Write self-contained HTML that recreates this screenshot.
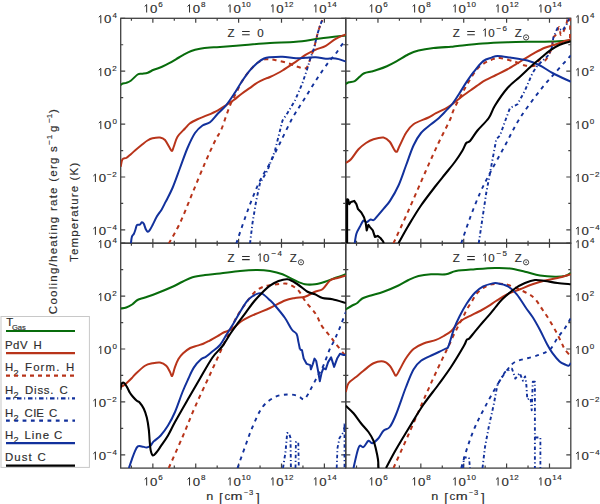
<!DOCTYPE html>
<html><head><meta charset="utf-8"><style>
html,body{margin:0;padding:0;background:#fff;width:600px;height:504px;overflow:hidden}
svg{display:block}
text{font-family:"Liberation Sans",sans-serif;fill:#2c2c2c;stroke:#2c2c2c;stroke-width:0.15px}
</style></head><body>
<svg width="600" height="504" viewBox="0 0 600 504">
<path d="M131.42 18.30v2.5M131.42 243.20v-2.5M152.86 18.30v4.5M152.86 243.20v-4.5M174.30 18.30v2.5M174.30 243.20v-2.5M195.74 18.30v4.5M195.74 243.20v-4.5M217.18 18.30v2.5M217.18 243.20v-2.5M238.62 18.30v4.5M238.62 243.20v-4.5M260.06 18.30v2.5M260.06 243.20v-2.5M281.50 18.30v4.5M281.50 243.20v-4.5M302.94 18.30v2.5M302.94 243.20v-2.5M324.38 18.30v4.5M324.38 243.20v-4.5M120.70 229.90h4.5M345.70 229.90h-4.5M120.70 203.45h2.5M345.70 203.45h-2.5M120.70 177.00h4.5M345.70 177.00h-4.5M120.70 150.55h2.5M345.70 150.55h-2.5M120.70 124.10h4.5M345.70 124.10h-4.5M120.70 97.65h2.5M345.70 97.65h-2.5M120.70 71.20h4.5M345.70 71.20h-4.5M120.70 44.75h2.5M345.70 44.75h-2.5M120.70 18.30h4.5M345.70 18.30h-4.5M356.52 18.30v2.5M356.52 243.20v-2.5M377.96 18.30v4.5M377.96 243.20v-4.5M399.40 18.30v2.5M399.40 243.20v-2.5M420.84 18.30v4.5M420.84 243.20v-4.5M442.28 18.30v2.5M442.28 243.20v-2.5M463.72 18.30v4.5M463.72 243.20v-4.5M485.16 18.30v2.5M485.16 243.20v-2.5M506.60 18.30v4.5M506.60 243.20v-4.5M528.04 18.30v2.5M528.04 243.20v-2.5M549.48 18.30v4.5M549.48 243.20v-4.5M345.80 229.90h4.5M570.80 229.90h-4.5M345.80 203.45h2.5M570.80 203.45h-2.5M345.80 177.00h4.5M570.80 177.00h-4.5M345.80 150.55h2.5M570.80 150.55h-2.5M345.80 124.10h4.5M570.80 124.10h-4.5M345.80 97.65h2.5M570.80 97.65h-2.5M345.80 71.20h4.5M570.80 71.20h-4.5M345.80 44.75h2.5M570.80 44.75h-2.5M345.80 18.30h4.5M570.80 18.30h-4.5M131.42 243.20v2.5M131.42 468.10v-2.5M152.86 243.20v4.5M152.86 468.10v-4.5M174.30 243.20v2.5M174.30 468.10v-2.5M195.74 243.20v4.5M195.74 468.10v-4.5M217.18 243.20v2.5M217.18 468.10v-2.5M238.62 243.20v4.5M238.62 468.10v-4.5M260.06 243.20v2.5M260.06 468.10v-2.5M281.50 243.20v4.5M281.50 468.10v-4.5M302.94 243.20v2.5M302.94 468.10v-2.5M324.38 243.20v4.5M324.38 468.10v-4.5M120.70 454.80h4.5M345.70 454.80h-4.5M120.70 428.35h2.5M345.70 428.35h-2.5M120.70 401.90h4.5M345.70 401.90h-4.5M120.70 375.45h2.5M345.70 375.45h-2.5M120.70 349.00h4.5M345.70 349.00h-4.5M120.70 322.55h2.5M345.70 322.55h-2.5M120.70 296.10h4.5M345.70 296.10h-4.5M120.70 269.65h2.5M345.70 269.65h-2.5M120.70 243.20h4.5M345.70 243.20h-4.5M356.52 243.20v2.5M356.52 468.10v-2.5M377.96 243.20v4.5M377.96 468.10v-4.5M399.40 243.20v2.5M399.40 468.10v-2.5M420.84 243.20v4.5M420.84 468.10v-4.5M442.28 243.20v2.5M442.28 468.10v-2.5M463.72 243.20v4.5M463.72 468.10v-4.5M485.16 243.20v2.5M485.16 468.10v-2.5M506.60 243.20v4.5M506.60 468.10v-4.5M528.04 243.20v2.5M528.04 468.10v-2.5M549.48 243.20v4.5M549.48 468.10v-4.5M345.80 454.80h4.5M570.80 454.80h-4.5M345.80 428.35h2.5M570.80 428.35h-2.5M345.80 401.90h4.5M570.80 401.90h-4.5M345.80 375.45h2.5M570.80 375.45h-2.5M345.80 349.00h4.5M570.80 349.00h-4.5M345.80 322.55h2.5M570.80 322.55h-2.5M345.80 296.10h4.5M570.80 296.10h-4.5M345.80 269.65h2.5M570.80 269.65h-2.5M345.80 243.20h4.5M570.80 243.20h-4.5" stroke="#404040" stroke-width="1.2" fill="none"/>
<rect x="120.70" y="18.30" width="225.0" height="224.9" fill="none" stroke="#404040" stroke-width="1.3"/>
<rect x="345.80" y="18.30" width="225.0" height="224.9" fill="none" stroke="#404040" stroke-width="1.3"/>
<rect x="120.70" y="243.20" width="225.0" height="224.9" fill="none" stroke="#404040" stroke-width="1.3"/>
<rect x="345.80" y="243.20" width="225.0" height="224.9" fill="none" stroke="#404040" stroke-width="1.3"/>
<defs><clipPath id="cTL"><rect x="120.70" y="18.30" width="225.0" height="224.9"/></clipPath><clipPath id="cTR"><rect x="345.80" y="18.30" width="225.0" height="224.9"/></clipPath><clipPath id="cBL"><rect x="120.70" y="243.20" width="225.0" height="224.9"/></clipPath><clipPath id="cBR"><rect x="345.80" y="243.20" width="225.0" height="224.9"/></clipPath></defs><g fill="none" stroke-linejoin="round" stroke-linecap="butt"><g clip-path="url(#cTL)"><path d="M120.70 85.00 C121.05 84.75 121.87 83.85 122.80 83.50 C123.73 83.15 124.92 83.40 126.30 82.90 C127.68 82.40 129.22 81.90 131.10 80.50 C132.98 79.10 135.82 75.63 137.60 74.50 C139.38 73.37 140.10 74.00 141.80 73.70 C143.50 73.40 145.82 73.35 147.80 72.70 C149.78 72.05 151.33 70.78 153.70 69.80 C156.07 68.82 159.42 67.90 162.00 66.80 C164.58 65.70 166.53 64.67 169.20 63.20 C171.87 61.73 175.78 59.32 178.00 58.00 C180.22 56.68 180.29 56.47 182.50 55.30 C184.71 54.13 188.33 52.09 191.25 51.00 C194.17 49.91 196.88 49.33 200.00 48.75 C203.12 48.17 206.67 47.79 210.00 47.50 C213.33 47.21 214.17 47.42 220.00 47.00 C225.83 46.58 236.67 45.67 245.00 45.00 C253.33 44.33 261.50 43.53 270.00 43.00 C278.50 42.47 287.67 42.55 296.00 41.80 C304.33 41.05 311.67 39.55 320.00 38.50 C328.33 37.45 341.67 36.00 346.00 35.50" stroke="#086c0c" stroke-width="2.05"/><path d="M120.70 166.75 C121.00 165.50 121.58 160.71 122.50 159.25 C123.42 157.79 125.00 158.71 126.25 158.00 C127.50 157.29 128.54 156.25 130.00 155.00 C131.46 153.75 132.92 152.29 135.00 150.50 C137.08 148.71 140.42 145.92 142.50 144.25 C144.58 142.58 145.83 141.49 147.50 140.50 C149.17 139.51 150.42 138.80 152.50 138.30 C154.58 137.80 157.92 137.22 160.00 137.50 C162.08 137.78 163.42 138.33 165.00 140.00 C166.58 141.67 168.33 145.67 169.50 147.50 C170.67 149.33 171.29 151.12 172.00 151.00 C172.71 150.88 172.83 149.12 173.75 146.75 C174.67 144.38 175.62 139.79 177.50 136.75 C179.38 133.71 182.92 130.74 185.00 128.50 C187.08 126.26 187.92 124.84 190.00 123.30 C192.08 121.76 194.58 120.60 197.50 119.25 C200.42 117.90 204.10 116.69 207.50 115.20 C210.90 113.71 214.70 112.03 217.90 110.30 C221.10 108.57 224.05 106.52 226.70 104.80 C229.35 103.08 231.30 101.85 233.80 100.00 C236.30 98.15 239.05 95.68 241.70 93.70 C244.35 91.72 247.05 89.97 249.70 88.10 C252.35 86.23 254.95 84.08 257.60 82.50 C260.25 80.92 263.53 79.52 265.60 78.60 C267.67 77.68 267.18 78.35 270.00 77.00 C272.82 75.65 278.17 73.07 282.50 70.50 C286.83 67.93 292.10 64.23 296.00 61.60 C299.90 58.97 302.60 56.68 305.90 54.70 C309.20 52.72 312.48 51.18 315.80 49.70 C319.12 48.22 322.48 47.62 325.80 45.80 C329.12 43.98 332.33 40.72 335.70 38.80 C339.07 36.88 344.28 35.05 346.00 34.30" stroke="#b8341a" stroke-width="2.0"/><path d="M168.75 243.60 C170.62 240.17 176.04 231.43 180.00 223.00 C183.96 214.57 188.33 203.00 192.50 193.00 C196.67 183.00 201.25 171.67 205.00 163.00 C208.75 154.33 212.32 146.50 215.00 141.00 C217.68 135.50 219.28 134.05 221.10 130.00 C222.92 125.95 224.32 121.03 225.90 116.70 C227.48 112.37 228.88 107.97 230.60 104.00 C232.32 100.03 234.35 96.62 236.20 92.90 C238.05 89.18 239.45 85.42 241.70 81.70 C243.95 77.98 247.05 73.77 249.70 70.60 C252.35 67.43 254.95 64.58 257.60 62.70 C260.25 60.82 262.70 59.75 265.60 59.30 C268.50 58.85 271.35 59.38 275.00 60.00 C278.65 60.62 283.75 61.88 287.50 63.00 C291.25 64.12 294.38 65.92 297.50 66.75 C300.62 67.58 304.02 69.67 306.25 68.00 C308.48 66.33 309.62 59.92 310.90 56.70 C312.17 53.48 313.08 51.35 313.90 48.70 C314.72 46.05 315.15 43.43 315.80 40.80 C316.45 38.17 317.05 35.55 317.80 32.90 C318.55 30.25 319.55 27.05 320.30 24.90 C321.05 22.75 321.97 20.82 322.30 20.00" stroke="#b8341a" stroke-width="2.0" stroke-dasharray="4.2 4.2"/><path d="M250.00 243.60 L252.50 223.00 L256.25 200.50 L260.00 183.00 L267.50 170.50 L275.00 150.50 L278.75 135.50 L282.50 120.50 L287.50 113.00 L295.00 100.50 L302.50 83.00 L307.50 68.00 L310.90 56.70 L313.90 48.70 L315.80 40.80 L317.80 32.90 L320.30 24.90 L322.30 20.00" stroke="#12319c" stroke-width="1.9" stroke-dasharray="3.5 2.5 1.2 2.5"/><path d="M236.25 243.60 C237.71 239.33 242.29 225.60 245.00 218.00 C247.71 210.40 250.00 204.25 252.50 198.00 C255.00 191.75 257.08 186.33 260.00 180.50 C262.92 174.67 266.67 169.25 270.00 163.00 C273.33 156.75 276.25 150.50 280.00 143.00 C283.75 135.50 288.33 125.50 292.50 118.00 C296.67 110.50 300.83 104.67 305.00 98.00 C309.17 91.33 313.55 84.00 317.50 78.00 C321.45 72.00 325.67 66.05 328.70 62.00 C331.73 57.95 333.38 56.73 335.70 53.70 C338.02 50.67 340.88 45.95 342.60 43.80 C344.32 41.65 345.43 41.30 346.00 40.80" stroke="#12319c" stroke-width="1.9" stroke-dasharray="3.8 4.5"/><path d="M130.90 243.60 C131.07 242.45 131.40 238.35 131.90 236.70 C132.40 235.05 133.32 234.87 133.90 233.70 C134.48 232.53 134.92 231.10 135.40 229.70 C135.88 228.30 136.23 226.12 136.80 225.30 C137.37 224.48 138.22 224.97 138.80 224.80 C139.38 224.63 139.80 224.72 140.30 224.30 C140.80 223.88 141.22 222.38 141.80 222.30 C142.38 222.22 143.13 222.65 143.80 223.80 C144.47 224.95 145.13 227.88 145.80 229.20 C146.47 230.52 147.15 231.53 147.80 231.70 C148.45 231.87 148.88 231.35 149.70 230.20 C150.52 229.05 151.53 227.03 152.70 224.80 C153.87 222.57 155.20 219.37 156.70 216.80 C158.20 214.23 160.22 211.88 161.70 209.40 C163.18 206.92 163.80 205.47 165.60 201.90 C167.40 198.33 170.10 193.65 172.50 188.00 C174.90 182.35 177.50 174.67 180.00 168.00 C182.50 161.33 185.00 153.83 187.50 148.00 C190.00 142.17 192.50 136.75 195.00 133.00 C197.50 129.25 200.00 127.30 202.50 125.50 C205.00 123.70 207.43 124.20 210.00 122.20 C212.57 120.20 215.25 116.27 217.90 113.50 C220.55 110.73 223.25 108.78 225.90 105.60 C228.55 102.42 231.17 98.38 233.80 94.40 C236.43 90.42 239.05 85.67 241.70 81.70 C244.35 77.73 247.05 73.77 249.70 70.60 C252.35 67.43 255.22 64.72 257.60 62.70 C259.98 60.68 261.93 59.40 264.00 58.50 C266.07 57.60 266.92 57.59 270.00 57.30 C273.08 57.01 278.17 56.60 282.50 56.75 C286.83 56.90 292.10 58.04 296.00 58.20 C299.90 58.36 302.60 57.87 305.90 57.70 C309.20 57.53 312.48 57.03 315.80 57.20 C319.12 57.37 322.98 58.53 325.80 58.70 C328.62 58.87 330.55 58.13 332.70 58.20 C334.85 58.27 336.48 58.53 338.70 59.10 C340.92 59.67 344.78 61.18 346.00 61.60" stroke="#12319c" stroke-width="2.0"/></g><g clip-path="url(#cTR)"><path d="M345.80 84.00 C346.30 83.72 347.32 82.78 348.80 82.30 C350.28 81.82 352.92 82.00 354.70 81.10 C356.48 80.20 357.92 78.20 359.50 76.90 C361.08 75.60 362.22 74.20 364.20 73.30 C366.18 72.40 369.22 72.08 371.40 71.50 C373.58 70.92 374.72 70.68 377.30 69.80 C379.88 68.92 383.72 67.60 386.90 66.20 C390.08 64.80 392.80 63.39 396.40 61.40 C400.00 59.41 404.82 56.07 408.50 54.25 C412.18 52.43 414.33 51.54 418.50 50.50 C422.67 49.46 428.08 48.62 433.50 48.00 C438.92 47.38 447.00 47.08 451.00 46.75 C455.00 46.42 452.25 46.54 457.50 46.00 C462.75 45.46 474.17 44.12 482.50 43.50 C490.83 42.88 499.17 42.54 507.50 42.25 C515.83 41.96 525.00 41.88 532.50 41.75 C540.00 41.62 546.12 41.71 552.50 41.50 C558.88 41.29 567.75 40.67 570.80 40.50" stroke="#086c0c" stroke-width="2.05"/><path d="M345.80 163.00 C346.67 162.38 348.88 161.54 351.00 159.25 C353.12 156.96 356.00 151.96 358.50 149.25 C361.00 146.54 363.50 144.67 366.00 143.00 C368.50 141.33 370.58 140.17 373.50 139.25 C376.42 138.33 380.79 137.08 383.50 137.50 C386.21 137.92 387.67 139.38 389.75 141.75 C391.83 144.12 394.33 151.12 396.00 151.75 C397.67 152.38 398.08 148.62 399.75 145.50 C401.42 142.38 403.71 136.54 406.00 133.00 C408.29 129.46 409.75 126.83 413.50 124.25 C417.25 121.67 424.75 119.34 428.50 117.50 C432.25 115.66 432.67 114.97 436.00 113.20 C439.33 111.43 444.33 109.57 448.50 106.90 C452.67 104.23 457.30 99.97 461.00 97.20 C464.70 94.43 467.47 92.62 470.70 90.30 C473.93 87.98 477.85 85.03 480.40 83.30 C482.95 81.57 483.40 81.28 486.00 79.90 C488.60 78.52 492.42 76.78 496.00 75.00 C499.58 73.22 503.50 71.46 507.50 69.25 C511.50 67.04 515.42 64.51 520.00 61.75 C524.58 58.99 530.87 55.04 535.00 52.70 C539.13 50.36 541.50 49.02 544.80 47.70 C548.10 46.38 551.48 45.92 554.80 44.80 C558.12 43.68 562.03 41.88 564.70 41.00 C567.37 40.12 569.78 39.75 570.80 39.50" stroke="#b8341a" stroke-width="2.0"/><path d="M393.50 243.20 C396.00 237.75 403.08 222.62 408.50 210.50 C413.92 198.38 421.00 181.75 426.00 170.50 C431.00 159.25 434.52 151.42 438.50 143.00 C442.48 134.58 447.32 125.67 449.90 120.00 C452.48 114.33 451.68 113.95 454.00 109.00 C456.32 104.05 461.25 95.03 463.80 90.30 C466.35 85.57 467.22 83.97 469.30 80.60 C471.38 77.23 473.98 72.88 476.30 70.10 C478.62 67.32 480.65 65.63 483.20 63.90 C485.75 62.17 488.80 60.68 491.60 59.70 C494.40 58.72 496.10 57.66 500.00 58.00 C503.90 58.34 510.83 60.50 515.00 61.75 C519.17 63.00 521.67 64.88 525.00 65.50 C528.33 66.12 532.50 66.54 535.00 65.50 C537.50 64.46 538.33 60.08 540.00 59.25 C541.67 58.42 543.53 61.26 545.00 60.50 C546.47 59.74 547.67 56.83 548.80 54.70 C549.93 52.57 551.05 50.52 551.80 47.70 C552.55 44.88 552.63 39.95 553.30 37.80 C553.97 35.65 554.82 36.62 555.80 34.80 C556.78 32.98 558.38 26.90 559.20 26.90 C560.02 26.90 560.12 33.80 560.70 34.80 C561.28 35.80 562.03 33.88 562.70 32.90 C563.37 31.92 564.03 30.57 564.70 28.90 C565.37 27.23 566.20 24.63 566.70 22.90 C567.20 21.17 567.15 19.23 567.70 18.50 C568.25 17.77 569.62 14.92 570.00 18.50 C570.38 22.08 570.00 36.42 570.00 40.00" stroke="#b8341a" stroke-width="2.0" stroke-dasharray="4.2 4.2"/><path d="M478.75 243.20 L482.50 218.00 L486.25 193.00 L490.00 173.00 L493.75 153.00 L496.25 139.25 L500.00 135.50 L506.25 118.00 L510.00 108.00 L517.50 104.25 L525.00 90.50 L532.50 73.00 L537.50 65.50 L544.80 58.70 L548.80 54.70 L551.80 47.70 L553.30 37.80 L557.50 28.00 L562.50 30.50 L567.50 23.00 L569.00 18.50" stroke="#12319c" stroke-width="1.9" stroke-dasharray="3.5 2.5 1.2 2.5"/><path d="M461.25 243.20 C462.71 239.00 466.88 226.37 470.00 218.00 C473.12 209.63 476.67 200.50 480.00 193.00 C483.33 185.50 485.83 180.92 490.00 173.00 C494.17 165.08 500.00 154.67 505.00 145.50 C510.00 136.33 514.17 127.17 520.00 118.00 C525.83 108.83 534.17 98.00 540.00 90.50 C545.83 83.00 549.87 78.83 555.00 73.00 C560.13 67.17 568.17 58.42 570.80 55.50" stroke="#12319c" stroke-width="1.9" stroke-dasharray="3.8 4.5"/><path d="M354.70 243.20 C354.98 241.62 355.57 236.38 356.40 233.70 C357.23 231.02 358.52 229.28 359.70 227.10 C360.88 224.92 362.33 221.42 363.50 220.60 C364.67 219.78 365.52 222.38 366.70 222.20 C367.88 222.02 369.42 219.87 370.60 219.50 C371.78 219.13 372.53 220.73 373.80 220.00 C375.07 219.27 376.55 217.00 378.20 215.10 C379.85 213.20 381.73 210.97 383.70 208.60 C385.67 206.23 387.53 204.75 390.00 200.90 C392.47 197.05 395.83 191.40 398.50 185.50 C401.17 179.60 403.50 172.17 406.00 165.50 C408.50 158.83 411.00 150.92 413.50 145.50 C416.00 140.08 418.08 136.54 421.00 133.00 C423.92 129.46 428.15 126.62 431.00 124.25 C433.85 121.88 435.65 120.99 438.10 118.80 C440.55 116.61 443.27 113.65 445.70 111.10 C448.13 108.55 450.38 106.50 452.70 103.50 C455.02 100.50 457.28 96.70 459.60 93.10 C461.92 89.50 464.28 85.38 466.60 81.90 C468.92 78.42 470.73 75.67 473.50 72.20 C476.27 68.73 480.18 63.53 483.20 61.10 C486.22 58.67 489.22 58.45 491.60 57.60 C493.98 56.75 494.43 56.02 497.50 56.00 C500.57 55.98 505.00 56.75 510.00 57.50 C515.00 58.25 522.50 59.17 527.50 60.50 C532.50 61.83 535.83 63.42 540.00 65.50 C544.17 67.58 547.37 70.29 552.50 73.00 C557.63 75.71 567.75 80.29 570.80 81.75" stroke="#12319c" stroke-width="2.0"/><path d="M398.50 243.20 C400.17 240.25 404.75 231.78 408.50 225.50 C412.25 219.22 416.42 212.17 421.00 205.50 C425.58 198.83 432.00 190.71 436.00 185.50 C440.00 180.29 441.83 178.21 445.00 174.25 C448.17 170.29 452.08 165.71 455.00 161.75 C457.92 157.79 460.62 153.62 462.50 150.50 C464.38 147.38 465.00 144.58 466.25 143.00 C467.50 141.42 468.12 143.08 470.00 141.00 C471.88 138.92 474.38 134.33 477.50 130.50 C480.62 126.67 485.83 122.17 488.75 118.00 C491.67 113.83 491.88 110.50 495.00 105.50 C498.12 100.50 503.33 92.79 507.50 88.00 C511.67 83.21 515.83 80.58 520.00 76.75 C524.17 72.92 529.17 68.01 532.50 65.00 C535.83 61.99 537.12 61.08 540.00 58.70 C542.88 56.32 546.52 53.02 549.80 50.70 C553.08 48.38 556.20 46.37 559.70 44.80 C563.20 43.23 568.95 41.88 570.80 41.30" stroke="#000" stroke-width="2.1"/><path d="M347.10 243.20 L347.10 199.30 L348.20 199.80 L349.30 204.20 L350.90 202.00 L354.20 200.90 L356.40 204.20 L358.00 209.10 L361.30 212.40 L364.00 217.30 L365.70 222.80 L366.70 230.40 L368.40 224.90 L370.00 227.10 L372.80 230.40 L374.90 236.90 L377.70 235.90 L380.40 238.00 L383.10 241.30 L383.70 243.20" stroke="#000" stroke-width="2.1"/></g><g clip-path="url(#cBL)"><path d="M120.70 308.50 C121.62 308.33 124.28 308.21 126.25 307.50 C128.22 306.79 130.62 305.50 132.50 304.25 C134.38 303.00 135.42 301.12 137.50 300.00 C139.58 298.88 141.67 298.67 145.00 297.50 C148.33 296.33 152.92 294.79 157.50 293.00 C162.08 291.21 168.33 288.62 172.50 286.75 C176.67 284.88 179.17 283.33 182.50 281.75 C185.83 280.17 188.75 278.38 192.50 277.25 C196.25 276.12 200.42 275.62 205.00 275.00 C209.58 274.38 214.17 274.17 220.00 273.50 C225.83 272.83 233.75 271.58 240.00 271.00 C246.25 270.42 252.50 270.00 257.50 270.00 C262.50 270.00 265.83 270.29 270.00 271.00 C274.17 271.71 278.33 272.67 282.50 274.25 C286.67 275.83 291.25 278.83 295.00 280.50 C298.75 282.17 301.67 283.62 305.00 284.25 C308.33 284.88 311.67 284.67 315.00 284.25 C318.33 283.83 321.67 282.79 325.00 281.75 C328.33 280.71 331.50 279.25 335.00 278.00 C338.50 276.75 344.17 274.88 346.00 274.25" stroke="#086c0c" stroke-width="2.05"/><path d="M120.70 387.00 C121.42 386.58 123.13 386.00 125.00 384.50 C126.87 383.00 130.23 379.67 131.90 378.00 C133.57 376.33 132.82 376.54 135.00 374.50 C137.18 372.46 142.08 367.62 145.00 365.75 C147.92 363.88 150.00 363.79 152.50 363.25 C155.00 362.71 157.71 362.08 160.00 362.50 C162.29 362.92 164.58 364.17 166.25 365.75 C167.92 367.33 169.01 370.29 170.00 372.00 C170.99 373.71 171.40 376.73 172.20 376.00 C173.00 375.27 173.78 370.38 174.80 367.60 C175.82 364.82 176.92 361.68 178.30 359.30 C179.68 356.92 181.12 355.18 183.10 353.30 C185.08 351.42 187.82 349.28 190.20 348.00 C192.58 346.72 195.22 346.30 197.40 345.60 C199.58 344.90 201.32 344.60 203.30 343.80 C205.28 343.00 206.92 342.08 209.30 340.80 C211.68 339.52 215.22 337.48 217.60 336.10 C219.98 334.72 221.25 333.65 223.60 332.50 C225.95 331.35 228.55 331.20 231.70 329.20 C234.85 327.20 238.62 322.99 242.50 320.50 C246.38 318.01 250.42 316.33 255.00 314.25 C259.58 312.17 265.00 310.29 270.00 308.00 C275.00 305.71 280.83 302.17 285.00 300.50 C289.17 298.83 291.67 298.62 295.00 298.00 C298.33 297.38 301.67 297.79 305.00 296.75 C308.33 295.71 312.08 293.00 315.00 291.75 C317.92 290.50 320.00 291.12 322.50 289.25 C325.00 287.38 327.50 282.38 330.00 280.50 C332.50 278.62 334.83 278.83 337.50 278.00 C340.17 277.17 344.58 275.92 346.00 275.50" stroke="#b8341a" stroke-width="2.0"/><path d="M168.75 468.00 C171.04 462.83 178.12 447.17 182.50 437.00 C186.88 426.83 190.42 417.42 195.00 407.00 C199.58 396.58 205.18 385.00 210.00 374.50 C214.82 364.00 219.97 352.55 223.90 344.00 C227.83 335.45 231.28 328.05 233.60 323.20 C235.92 318.35 236.18 317.67 237.80 314.90 C239.42 312.13 241.68 308.92 243.30 306.60 C244.92 304.28 246.10 302.87 247.50 301.00 C248.90 299.13 250.08 297.25 251.70 295.40 C253.32 293.55 255.12 291.40 257.20 289.90 C259.28 288.40 262.07 287.18 264.20 286.40 C266.33 285.62 267.38 285.60 270.00 285.20 C272.62 284.80 276.92 284.20 279.90 284.00 C282.88 283.80 284.92 283.03 287.90 284.00 C290.88 284.97 294.83 286.85 297.80 289.80 C300.77 292.75 302.73 297.72 305.70 301.70 C308.67 305.68 312.95 309.72 315.60 313.70 C318.25 317.68 319.28 321.97 321.60 325.60 C323.92 329.23 327.18 332.53 329.50 335.50 C331.82 338.47 333.18 340.43 335.50 343.40 C337.82 346.37 341.65 351.20 343.40 353.30 C345.15 355.40 345.57 355.55 346.00 356.00" stroke="#b8341a" stroke-width="2.0" stroke-dasharray="4.2 4.2"/><path d="M283.00 468.00 L285.50 452.00 L287.20 433.00 L289.00 433.00 L290.50 438.00 L290.90 468.00" stroke="#12319c" stroke-width="1.9" stroke-dasharray="3.5 2.5 1.2 2.5"/><path d="M336.70 468.00 L337.50 448.00 L339.50 438.00 L344.20 431.00 L344.50 423.00 L344.50 468.00" stroke="#12319c" stroke-width="1.8" stroke-dasharray="3.5 2.5 1.2 2.5"/><path d="M295.50 468.00 L295.90 442.00 L298.30 442.00 L298.80 468.00" stroke="#12319c" stroke-width="1.8" stroke-dasharray="3.5 2.5 1.2 2.5"/><path d="M237.50 468.00 C238.75 464.50 242.50 453.83 245.00 447.00 C247.50 440.17 249.58 433.67 252.50 427.00 C255.42 420.33 258.75 412.00 262.50 407.00 C266.25 402.00 270.83 399.08 275.00 397.00 C279.17 394.92 283.75 394.71 287.50 394.50 C291.25 394.29 294.79 394.92 297.50 395.75 C300.21 396.58 302.08 399.62 303.75 399.50 C305.42 399.38 306.31 396.77 307.50 395.00 C308.69 393.23 309.35 391.80 310.90 388.90 C312.45 386.00 314.72 381.47 316.80 377.60 C318.88 373.73 321.32 370.27 323.40 365.70 C325.48 361.13 327.52 354.37 329.30 350.20 C331.08 346.03 332.50 344.07 334.10 340.70 C335.70 337.33 336.92 334.83 338.90 330.00 C340.88 325.17 344.82 314.75 346.00 311.70" stroke="#12319c" stroke-width="1.9" stroke-dasharray="3.8 4.5"/><path d="M128.90 468.00 C129.40 466.55 130.90 462.08 131.90 459.30 C132.90 456.52 133.92 453.45 134.90 451.30 C135.88 449.15 136.65 447.22 137.80 446.40 C138.95 445.58 140.30 446.23 141.80 446.40 C143.30 446.57 145.32 447.57 146.80 447.40 C148.28 447.23 149.55 446.40 150.70 445.40 C151.85 444.40 152.03 443.05 153.70 441.40 C155.37 439.75 158.32 438.13 160.70 435.50 C163.08 432.87 165.62 429.52 168.00 425.60 C170.38 421.68 172.58 417.60 175.00 412.00 C177.42 406.40 180.30 397.50 182.50 392.00 C184.70 386.50 186.32 383.07 188.20 379.00 C190.08 374.93 191.67 370.88 193.80 367.60 C195.93 364.32 199.02 361.08 201.00 359.30 C202.98 357.52 203.92 358.10 205.70 356.90 C207.48 355.70 209.32 354.08 211.70 352.10 C214.08 350.12 217.50 347.97 220.00 345.00 C222.50 342.03 224.43 337.93 226.70 334.30 C228.97 330.67 231.52 326.67 233.60 323.20 C235.68 319.73 237.12 316.97 239.20 313.50 C241.28 310.03 244.02 305.18 246.10 302.40 C248.18 299.62 249.62 298.30 251.70 296.80 C253.78 295.30 256.75 293.87 258.60 293.40 C260.45 292.93 260.90 292.85 262.80 294.00 C264.70 295.15 267.97 298.38 270.00 300.30 C272.03 302.22 272.50 302.55 275.00 305.50 C277.50 308.45 282.20 314.00 285.00 318.00 C287.80 322.00 289.87 326.83 291.80 329.50 C293.73 332.17 295.50 331.93 296.60 334.00 C297.70 336.07 297.83 339.32 298.40 341.90 C298.97 344.48 299.73 348.23 300.00 349.50" stroke="#12319c" stroke-width="2.0"/><path d="M300.00 349.50 L302.00 350.20 L303.70 358.60 L306.70 363.90 L310.30 365.10 L310.90 369.30 L312.70 364.50 L314.50 358.60 L316.20 361.00 L318.00 370.50 L319.80 381.20 L321.60 372.90 L323.40 368.10 L325.80 369.30 L328.10 362.10 L331.10 357.40 L334.10 366.90 L337.10 358.60 L340.00 353.80 L343.60 355.00 L346.00 355.00" stroke="#12319c" stroke-width="2.0"/><path d="M120.40 389.80 C120.60 388.82 121.00 385.05 121.60 383.90 C122.20 382.75 123.12 382.40 124.00 382.90 C124.88 383.40 125.92 385.25 126.90 386.90 C127.88 388.55 128.90 391.15 129.90 392.80 C130.90 394.45 131.75 395.47 132.90 396.80 C134.05 398.13 135.65 399.82 136.80 400.80 C137.95 401.78 138.63 401.38 139.80 402.70 C140.97 404.02 142.63 406.22 143.80 408.70 C144.97 411.18 145.97 414.13 146.80 417.60 C147.63 421.07 148.32 425.53 148.80 429.50 C149.28 433.47 149.38 437.92 149.70 441.40 C150.02 444.88 150.20 448.08 150.70 450.40 C151.20 452.72 151.87 454.82 152.70 455.30 C153.53 455.78 154.37 454.78 155.70 453.30 C157.03 451.82 158.65 449.37 160.70 446.40 C162.75 443.43 165.62 439.57 168.00 435.50 C170.38 431.43 171.75 427.92 175.00 422.00 C178.25 416.08 183.33 407.25 187.50 400.00 C191.67 392.75 195.83 385.58 200.00 378.50 C204.17 371.42 208.75 362.92 212.50 357.50 C216.25 352.08 219.45 350.08 222.50 346.00 C225.55 341.92 228.25 336.80 230.80 333.00 C233.35 329.20 235.25 326.68 237.80 323.20 C240.35 319.72 243.33 315.80 246.10 312.10 C248.87 308.40 251.85 304.12 254.40 301.00 C256.95 297.88 258.80 295.95 261.40 293.40 C264.00 290.85 267.32 287.68 270.00 285.70 C272.68 283.72 274.58 282.57 277.50 281.50 C280.42 280.43 284.17 278.79 287.50 279.25 C290.83 279.71 294.17 282.17 297.50 284.25 C300.83 286.33 304.58 290.08 307.50 291.75 C310.42 293.42 312.50 293.21 315.00 294.25 C317.50 295.29 319.58 297.17 322.50 298.00 C325.42 298.83 328.58 298.42 332.50 299.25 C336.42 300.08 343.75 302.38 346.00 303.00" stroke="#000" stroke-width="2.1"/></g><g clip-path="url(#cBR)"><path d="M345.80 309.25 C346.88 308.62 350.34 306.54 352.25 305.50 C354.16 304.46 355.58 304.17 357.25 303.00 C358.92 301.83 359.96 299.75 362.25 298.50 C364.54 297.25 367.46 296.62 371.00 295.50 C374.54 294.38 378.92 293.42 383.50 291.75 C388.08 290.08 394.33 287.46 398.50 285.50 C402.67 283.54 405.17 281.58 408.50 280.00 C411.83 278.42 414.75 276.96 418.50 276.00 C422.25 275.04 426.42 274.54 431.00 274.25 C435.58 273.96 441.83 274.79 446.00 274.25 C450.17 273.71 451.17 271.83 456.00 271.00 C460.83 270.17 468.50 269.75 475.00 269.25 C481.50 268.75 489.17 268.12 495.00 268.00 C500.83 267.88 505.00 267.88 510.00 268.50 C515.00 269.12 520.00 270.58 525.00 271.75 C530.00 272.92 535.00 274.67 540.00 275.50 C545.00 276.33 550.83 276.67 555.00 276.75 C559.17 276.83 562.37 276.62 565.00 276.00 C567.63 275.38 569.83 273.50 570.80 273.00" stroke="#086c0c" stroke-width="2.05"/><path d="M345.80 392.00 C346.25 390.54 346.80 385.75 348.50 383.25 C350.20 380.75 353.50 379.08 356.00 377.00 C358.50 374.92 360.58 373.04 363.50 370.75 C366.42 368.46 370.17 364.79 373.50 363.25 C376.83 361.71 380.79 361.08 383.50 361.50 C386.21 361.92 388.08 364.00 389.75 365.75 C391.42 367.50 392.46 370.33 393.50 372.00 C394.54 373.67 394.96 376.17 396.00 375.75 C397.04 375.33 398.08 372.42 399.75 369.50 C401.42 366.58 403.71 361.67 406.00 358.25 C408.29 354.83 410.58 351.46 413.50 349.00 C416.42 346.54 419.75 345.02 423.50 343.50 C427.25 341.98 432.53 341.20 436.00 339.90 C439.47 338.60 441.75 337.20 444.30 335.70 C446.85 334.20 449.22 332.75 451.30 330.90 C453.38 329.05 454.72 326.58 456.80 324.60 C458.88 322.62 461.25 320.62 463.80 319.00 C466.35 317.38 469.10 316.40 472.10 314.90 C475.10 313.40 479.02 311.50 481.80 310.00 C484.58 308.50 486.43 307.40 488.80 305.90 C491.17 304.40 492.88 302.94 496.00 301.00 C499.12 299.06 503.50 296.21 507.50 294.25 C511.50 292.29 515.83 290.92 520.00 289.25 C524.17 287.58 528.33 285.71 532.50 284.25 C536.67 282.79 540.83 281.54 545.00 280.50 C549.17 279.46 553.20 279.04 557.50 278.00 C561.80 276.96 568.58 274.88 570.80 274.25" stroke="#b8341a" stroke-width="2.0"/><path d="M393.50 468.00 C396.00 462.42 403.08 446.75 408.50 434.50 C413.92 422.25 421.00 405.75 426.00 394.50 C431.00 383.25 434.63 375.28 438.50 367.00 C442.37 358.72 446.83 349.78 449.20 344.80 C451.57 339.82 451.55 339.53 452.70 337.10 C453.85 334.67 454.25 333.78 456.10 330.20 C457.95 326.62 461.93 319.20 463.80 315.60 C465.67 312.00 465.92 311.03 467.30 308.60 C468.68 306.17 470.60 303.43 472.10 301.00 C473.60 298.57 474.57 296.08 476.30 294.00 C478.03 291.92 480.18 290.07 482.50 288.50 C484.82 286.93 487.28 285.38 490.20 284.60 C493.12 283.82 496.77 283.67 500.00 283.80 C503.23 283.93 505.32 283.95 509.60 285.40 C513.88 286.85 521.53 290.32 525.70 292.50 C529.87 294.68 531.92 295.82 534.60 298.50 C537.28 301.18 539.42 305.13 541.80 308.60 C544.18 312.07 546.52 315.43 548.90 319.30 C551.28 323.17 554.02 327.93 556.10 331.80 C558.18 335.67 559.92 339.53 561.40 342.50 C562.88 345.47 563.43 347.27 565.00 349.60 C566.57 351.93 569.83 355.35 570.80 356.50" stroke="#b8341a" stroke-width="2.0" stroke-dasharray="4.2 4.2"/><path d="M482.50 468.00 L485.00 447.00 L488.75 427.00 L493.75 404.50 L497.50 384.50 L505.00 372.00 L512.00 368.70 L515.30 378.60 L519.70 373.10 L522.90 380.70 L525.10 376.40 L526.20 382.90 L527.30 399.30 L530.60 398.20 L531.70 410.20 L532.80 381.80 L534.90 381.80 L534.90 468.00" stroke="#12319c" stroke-width="1.9" stroke-dasharray="3.5 2.5 1.2 2.5"/><path d="M534.90 437.50 L540.40 437.50 L540.40 468.00" stroke="#12319c" stroke-width="1.8" stroke-dasharray="3.5 2.5 1.2 2.5"/><path d="M463.00 468.00 L464.00 457.50 L469.00 457.50 L470.00 468.00" stroke="#12319c" stroke-width="1.8" stroke-dasharray="3.5 2.5 1.2 2.5"/><path d="M461.25 468.00 C462.29 464.50 465.21 453.83 467.50 447.00 C469.79 440.17 472.08 433.67 475.00 427.00 C477.92 420.33 481.25 414.08 485.00 407.00 C488.75 399.92 493.75 390.75 497.50 384.50 C501.25 378.25 504.58 373.25 507.50 369.50 C510.42 365.75 511.67 363.88 515.00 362.00 C518.33 360.12 523.33 359.50 527.50 358.25 C531.67 357.00 536.25 355.96 540.00 354.50 C543.75 353.04 547.08 352.25 550.00 349.50 C552.92 346.75 555.00 341.58 557.50 338.00 C560.00 334.42 562.78 331.33 565.00 328.00 C567.22 324.67 569.83 319.67 570.80 318.00" stroke="#12319c" stroke-width="1.9" stroke-dasharray="3.8 4.5"/><path d="M353.50 468.00 C354.12 465.33 356.21 455.71 357.25 452.00 C358.29 448.29 358.71 446.58 359.75 445.75 C360.79 444.92 362.04 447.83 363.50 447.00 C364.96 446.17 367.04 441.38 368.50 440.75 C369.96 440.12 370.58 443.67 372.25 443.25 C373.92 442.83 376.62 440.33 378.50 438.25 C380.38 436.17 381.62 432.62 383.50 430.75 C385.38 428.88 387.67 429.71 389.75 427.00 C391.83 424.29 393.29 421.17 396.00 414.50 C398.71 407.83 403.08 394.50 406.00 387.00 C408.92 379.50 411.00 373.88 413.50 369.50 C416.00 365.12 417.67 363.25 421.00 360.75 C424.33 358.25 429.33 356.54 433.50 354.50 C437.67 352.46 443.50 349.92 446.00 348.50 C448.50 347.08 447.17 349.28 448.50 346.00 C449.83 342.72 452.15 333.75 454.00 328.80 C455.85 323.85 457.50 320.47 459.60 316.30 C461.70 312.13 464.05 307.73 466.60 303.80 C469.15 299.87 472.13 295.60 474.90 292.70 C477.67 289.80 480.42 287.92 483.20 286.40 C485.98 284.88 489.28 284.13 491.60 283.60 C493.92 283.07 494.38 282.75 497.10 283.20 C499.82 283.65 504.62 284.45 507.90 286.30 C511.18 288.15 513.83 290.77 516.80 294.30 C519.77 297.83 523.02 303.63 525.70 307.50 C528.38 311.37 530.52 313.75 532.90 317.50 C535.28 321.25 537.63 325.53 540.00 330.00 C542.37 334.47 545.02 340.43 547.10 344.30 C549.18 348.17 550.42 350.33 552.50 353.20 C554.58 356.07 557.52 359.62 559.60 361.50 C561.68 363.38 563.50 363.80 565.00 364.50 C566.50 365.20 567.63 365.95 568.60 365.70 C569.57 365.45 570.43 363.45 570.80 363.00" stroke="#12319c" stroke-width="2.0"/><path d="M345.80 405.75 C347.08 407.00 350.97 410.33 353.50 413.25 C356.03 416.17 358.50 420.12 361.00 423.25 C363.50 426.38 366.42 429.08 368.50 432.00 C370.58 434.92 372.25 437.83 373.50 440.75 C374.75 443.67 375.25 446.38 376.00 449.50 C376.75 452.62 377.58 456.42 378.00 459.50 C378.42 462.58 378.42 466.58 378.50 468.00" stroke="#000" stroke-width="2.1"/><path d="M386.00 468.00 C387.67 464.92 391.83 456.75 396.00 449.50 C400.17 442.25 406.42 432.00 411.00 424.50 C415.58 417.00 418.92 411.17 423.50 404.50 C428.08 397.83 433.92 390.75 438.50 384.50 C443.08 378.25 446.78 373.42 451.00 367.00 C455.22 360.58 461.20 350.50 463.80 346.00 C466.40 341.50 465.68 341.25 466.60 340.00 C467.52 338.75 467.92 339.90 469.30 338.50 C470.68 337.10 472.58 334.38 474.90 331.60 C477.22 328.82 480.42 325.05 483.20 321.80 C485.98 318.55 489.47 314.63 491.60 312.10 C493.73 309.57 494.18 308.78 496.00 306.60 C497.82 304.42 499.33 302.02 502.50 299.00 C505.67 295.98 511.25 291.17 515.00 288.50 C518.75 285.83 521.67 284.42 525.00 283.00 C528.33 281.58 531.67 280.33 535.00 280.00 C538.33 279.67 541.25 280.50 545.00 281.00 C548.75 281.50 553.20 282.46 557.50 283.00 C561.80 283.54 568.58 284.04 570.80 284.25" stroke="#000" stroke-width="2.1"/></g></g>
<path d="M144.66 6.49L146.66 4.59V12.50" fill="none" stroke="#2c2c2c" stroke-width="1.0"/><text transform="translate(150.46,12.50) scale(1.15,1)" x="-0.45" y="0" font-size="11.5" >0</text><text x="158.15" y="7.30" font-size="8.0" >6</text>
<path d="M144.66 479.49L146.66 477.59V485.50" fill="none" stroke="#2c2c2c" stroke-width="1.0"/><text transform="translate(150.46,485.50) scale(1.15,1)" x="-0.45" y="0" font-size="11.5" >0</text><text x="158.15" y="480.30" font-size="8.0" >6</text>
<path d="M187.54 6.49L189.54 4.59V12.50" fill="none" stroke="#2c2c2c" stroke-width="1.0"/><text transform="translate(193.34,12.50) scale(1.15,1)" x="-0.45" y="0" font-size="11.5" >0</text><text x="201.09" y="7.30" font-size="8.0" >8</text>
<path d="M187.54 479.49L189.54 477.59V485.50" fill="none" stroke="#2c2c2c" stroke-width="1.0"/><text transform="translate(193.34,485.50) scale(1.15,1)" x="-0.45" y="0" font-size="11.5" >0</text><text x="201.09" y="480.30" font-size="8.0" >8</text>
<path d="M228.12 6.49L230.12 4.59V12.50" fill="none" stroke="#2c2c2c" stroke-width="1.0"/><text transform="translate(233.92,12.50) scale(1.15,1)" x="-0.45" y="0" font-size="11.5" >0</text><text x="241.41" y="7.30" font-size="8.0" >1</text><text x="246.31" y="7.30" font-size="8.0" >0</text>
<path d="M228.12 479.49L230.12 477.59V485.50" fill="none" stroke="#2c2c2c" stroke-width="1.0"/><text transform="translate(233.92,485.50) scale(1.15,1)" x="-0.45" y="0" font-size="11.5" >0</text><text x="241.41" y="480.30" font-size="8.0" >1</text><text x="246.31" y="480.30" font-size="8.0" >0</text>
<path d="M271.00 6.49L273.00 4.59V12.50" fill="none" stroke="#2c2c2c" stroke-width="1.0"/><text transform="translate(276.80,12.50) scale(1.15,1)" x="-0.45" y="0" font-size="11.5" >0</text><text x="284.29" y="7.30" font-size="8.0" >1</text><text x="289.10" y="7.30" font-size="8.0" >2</text>
<path d="M271.00 479.49L273.00 477.59V485.50" fill="none" stroke="#2c2c2c" stroke-width="1.0"/><text transform="translate(276.80,485.50) scale(1.15,1)" x="-0.45" y="0" font-size="11.5" >0</text><text x="284.29" y="480.30" font-size="8.0" >1</text><text x="289.10" y="480.30" font-size="8.0" >2</text>
<path d="M313.88 6.49L315.88 4.59V12.50" fill="none" stroke="#2c2c2c" stroke-width="1.0"/><text transform="translate(319.68,12.50) scale(1.15,1)" x="-0.45" y="0" font-size="11.5" >0</text><text x="327.17" y="7.30" font-size="8.0" >1</text><text x="332.20" y="7.30" font-size="8.0" >4</text>
<path d="M313.88 479.49L315.88 477.59V485.50" fill="none" stroke="#2c2c2c" stroke-width="1.0"/><text transform="translate(319.68,485.50) scale(1.15,1)" x="-0.45" y="0" font-size="11.5" >0</text><text x="327.17" y="480.30" font-size="8.0" >1</text><text x="332.20" y="480.30" font-size="8.0" >4</text>
<path d="M369.76 6.49L371.76 4.59V12.50" fill="none" stroke="#2c2c2c" stroke-width="1.0"/><text transform="translate(375.56,12.50) scale(1.15,1)" x="-0.45" y="0" font-size="11.5" >0</text><text x="383.25" y="7.30" font-size="8.0" >6</text>
<path d="M369.76 479.49L371.76 477.59V485.50" fill="none" stroke="#2c2c2c" stroke-width="1.0"/><text transform="translate(375.56,485.50) scale(1.15,1)" x="-0.45" y="0" font-size="11.5" >0</text><text x="383.25" y="480.30" font-size="8.0" >6</text>
<path d="M412.64 6.49L414.64 4.59V12.50" fill="none" stroke="#2c2c2c" stroke-width="1.0"/><text transform="translate(418.44,12.50) scale(1.15,1)" x="-0.45" y="0" font-size="11.5" >0</text><text x="426.19" y="7.30" font-size="8.0" >8</text>
<path d="M412.64 479.49L414.64 477.59V485.50" fill="none" stroke="#2c2c2c" stroke-width="1.0"/><text transform="translate(418.44,485.50) scale(1.15,1)" x="-0.45" y="0" font-size="11.5" >0</text><text x="426.19" y="480.30" font-size="8.0" >8</text>
<path d="M453.22 6.49L455.22 4.59V12.50" fill="none" stroke="#2c2c2c" stroke-width="1.0"/><text transform="translate(459.02,12.50) scale(1.15,1)" x="-0.45" y="0" font-size="11.5" >0</text><text x="466.51" y="7.30" font-size="8.0" >1</text><text x="471.41" y="7.30" font-size="8.0" >0</text>
<path d="M453.22 479.49L455.22 477.59V485.50" fill="none" stroke="#2c2c2c" stroke-width="1.0"/><text transform="translate(459.02,485.50) scale(1.15,1)" x="-0.45" y="0" font-size="11.5" >0</text><text x="466.51" y="480.30" font-size="8.0" >1</text><text x="471.41" y="480.30" font-size="8.0" >0</text>
<path d="M496.10 6.49L498.10 4.59V12.50" fill="none" stroke="#2c2c2c" stroke-width="1.0"/><text transform="translate(501.90,12.50) scale(1.15,1)" x="-0.45" y="0" font-size="11.5" >0</text><text x="509.39" y="7.30" font-size="8.0" >1</text><text x="514.20" y="7.30" font-size="8.0" >2</text>
<path d="M496.10 479.49L498.10 477.59V485.50" fill="none" stroke="#2c2c2c" stroke-width="1.0"/><text transform="translate(501.90,485.50) scale(1.15,1)" x="-0.45" y="0" font-size="11.5" >0</text><text x="509.39" y="480.30" font-size="8.0" >1</text><text x="514.20" y="480.30" font-size="8.0" >2</text>
<path d="M538.98 6.49L540.98 4.59V12.50" fill="none" stroke="#2c2c2c" stroke-width="1.0"/><text transform="translate(544.78,12.50) scale(1.15,1)" x="-0.45" y="0" font-size="11.5" >0</text><text x="552.27" y="7.30" font-size="8.0" >1</text><text x="557.30" y="7.30" font-size="8.0" >4</text>
<path d="M538.98 479.49L540.98 477.59V485.50" fill="none" stroke="#2c2c2c" stroke-width="1.0"/><text transform="translate(544.78,485.50) scale(1.15,1)" x="-0.45" y="0" font-size="11.5" >0</text><text x="552.27" y="480.30" font-size="8.0" >1</text><text x="557.30" y="480.30" font-size="8.0" >4</text>
<path d="M98.80 17.29L100.80 15.39V23.30" fill="none" stroke="#2c2c2c" stroke-width="1.0"/><text transform="translate(104.60,23.30) scale(1.15,1)" x="-0.45" y="0" font-size="11.5" >0</text><text x="112.52" y="18.10" font-size="8.0" >4</text>
<path d="M576.20 17.29L578.20 15.39V23.30" fill="none" stroke="#2c2c2c" stroke-width="1.0"/><text transform="translate(582.00,23.30) scale(1.15,1)" x="-0.45" y="0" font-size="11.5" >0</text><text x="589.92" y="18.10" font-size="8.0" >4</text>
<path d="M98.80 70.19L100.80 68.29V76.20" fill="none" stroke="#2c2c2c" stroke-width="1.0"/><text transform="translate(104.60,76.20) scale(1.15,1)" x="-0.45" y="0" font-size="11.5" >0</text><text x="112.30" y="71.00" font-size="8.0" >2</text>
<path d="M576.20 70.19L578.20 68.29V76.20" fill="none" stroke="#2c2c2c" stroke-width="1.0"/><text transform="translate(582.00,76.20) scale(1.15,1)" x="-0.45" y="0" font-size="11.5" >0</text><text x="589.70" y="71.00" font-size="8.0" >2</text>
<path d="M98.80 123.09L100.80 121.19V129.10" fill="none" stroke="#2c2c2c" stroke-width="1.0"/><text transform="translate(104.60,129.10) scale(1.15,1)" x="-0.45" y="0" font-size="11.5" >0</text><text x="112.39" y="123.90" font-size="8.0" >0</text>
<path d="M576.20 123.09L578.20 121.19V129.10" fill="none" stroke="#2c2c2c" stroke-width="1.0"/><text transform="translate(582.00,129.10) scale(1.15,1)" x="-0.45" y="0" font-size="11.5" >0</text><text x="589.79" y="123.90" font-size="8.0" >0</text>
<path d="M93.40 175.99L95.40 174.09V182.00" fill="none" stroke="#2c2c2c" stroke-width="1.0"/><text transform="translate(99.20,182.00) scale(1.15,1)" x="-0.45" y="0" font-size="11.5" >0</text><text x="106.91" y="176.80" font-size="8.0" >−</text><text x="112.30" y="176.80" font-size="8.0" >2</text>
<path d="M576.20 175.99L578.20 174.09V182.00" fill="none" stroke="#2c2c2c" stroke-width="1.0"/><text transform="translate(582.00,182.00) scale(1.15,1)" x="-0.45" y="0" font-size="11.5" >0</text><text x="589.71" y="176.80" font-size="8.0" >−</text><text x="595.10" y="176.80" font-size="8.0" >2</text>
<path d="M93.40 228.89L95.40 226.99V234.90" fill="none" stroke="#2c2c2c" stroke-width="1.0"/><text transform="translate(99.20,234.90) scale(1.15,1)" x="-0.45" y="0" font-size="11.5" >0</text><text x="106.91" y="229.70" font-size="8.0" >−</text><text x="112.52" y="229.70" font-size="8.0" >4</text>
<path d="M576.20 228.89L578.20 226.99V234.90" fill="none" stroke="#2c2c2c" stroke-width="1.0"/><text transform="translate(582.00,234.90) scale(1.15,1)" x="-0.45" y="0" font-size="11.5" >0</text><text x="589.71" y="229.70" font-size="8.0" >−</text><text x="595.32" y="229.70" font-size="8.0" >4</text>
<path d="M98.80 242.19L100.80 240.29V248.20" fill="none" stroke="#2c2c2c" stroke-width="1.0"/><text transform="translate(104.60,248.20) scale(1.15,1)" x="-0.45" y="0" font-size="11.5" >0</text><text x="112.52" y="243.00" font-size="8.0" >4</text>
<path d="M576.20 242.19L578.20 240.29V248.20" fill="none" stroke="#2c2c2c" stroke-width="1.0"/><text transform="translate(582.00,248.20) scale(1.15,1)" x="-0.45" y="0" font-size="11.5" >0</text><text x="589.92" y="243.00" font-size="8.0" >4</text>
<path d="M98.80 295.09L100.80 293.19V301.10" fill="none" stroke="#2c2c2c" stroke-width="1.0"/><text transform="translate(104.60,301.10) scale(1.15,1)" x="-0.45" y="0" font-size="11.5" >0</text><text x="112.30" y="295.90" font-size="8.0" >2</text>
<path d="M576.20 295.09L578.20 293.19V301.10" fill="none" stroke="#2c2c2c" stroke-width="1.0"/><text transform="translate(582.00,301.10) scale(1.15,1)" x="-0.45" y="0" font-size="11.5" >0</text><text x="589.70" y="295.90" font-size="8.0" >2</text>
<path d="M98.80 347.99L100.80 346.09V354.00" fill="none" stroke="#2c2c2c" stroke-width="1.0"/><text transform="translate(104.60,354.00) scale(1.15,1)" x="-0.45" y="0" font-size="11.5" >0</text><text x="112.39" y="348.80" font-size="8.0" >0</text>
<path d="M576.20 347.99L578.20 346.09V354.00" fill="none" stroke="#2c2c2c" stroke-width="1.0"/><text transform="translate(582.00,354.00) scale(1.15,1)" x="-0.45" y="0" font-size="11.5" >0</text><text x="589.79" y="348.80" font-size="8.0" >0</text>
<path d="M93.40 400.89L95.40 398.99V406.90" fill="none" stroke="#2c2c2c" stroke-width="1.0"/><text transform="translate(99.20,406.90) scale(1.15,1)" x="-0.45" y="0" font-size="11.5" >0</text><text x="106.91" y="401.70" font-size="8.0" >−</text><text x="112.30" y="401.70" font-size="8.0" >2</text>
<path d="M576.20 400.89L578.20 398.99V406.90" fill="none" stroke="#2c2c2c" stroke-width="1.0"/><text transform="translate(582.00,406.90) scale(1.15,1)" x="-0.45" y="0" font-size="11.5" >0</text><text x="589.71" y="401.70" font-size="8.0" >−</text><text x="595.10" y="401.70" font-size="8.0" >2</text>
<path d="M93.40 453.79L95.40 451.89V459.80" fill="none" stroke="#2c2c2c" stroke-width="1.0"/><text transform="translate(99.20,459.80) scale(1.15,1)" x="-0.45" y="0" font-size="11.5" >0</text><text x="106.91" y="454.60" font-size="8.0" >−</text><text x="112.52" y="454.60" font-size="8.0" >4</text>
<path d="M576.20 453.79L578.20 451.89V459.80" fill="none" stroke="#2c2c2c" stroke-width="1.0"/><text transform="translate(582.00,459.80) scale(1.15,1)" x="-0.45" y="0" font-size="11.5" >0</text><text x="589.71" y="454.60" font-size="8.0" >−</text><text x="595.32" y="454.60" font-size="8.0" >4</text>
<text x="227.54" y="36.60" font-size="11.5" >Z</text>
<path d="M242.10 31.50h7.6M242.10 34.70h7.6" stroke="#2c2c2c" stroke-width="1.05" fill="none"/>
<text x="257.15" y="36.60" font-size="11.5" >0</text>
<text x="452.64" y="36.60" font-size="11.5" >Z</text>
<path d="M467.20 31.50h7.6M467.20 34.70h7.6" stroke="#2c2c2c" stroke-width="1.05" fill="none"/>
<path d="M483.30 30.59L485.30 28.69V36.60" fill="none" stroke="#2c2c2c" stroke-width="1.0"/>
<text x="488.15" y="36.60" font-size="11.5" >0</text>
<text x="496.61" y="30.80" font-size="8.0" >−</text>
<text x="502.39" y="30.80" font-size="8.0" >6</text>
<text x="514.84" y="36.60" font-size="11.5" >Z</text>
<circle cx="526.10" cy="37.40" r="2.6" fill="none" stroke="#2c2c2c" stroke-width="0.9"/><circle cx="526.10" cy="37.40" r="0.7" fill="#2c2c2c"/>
<text x="227.54" y="261.50" font-size="11.5" >Z</text>
<path d="M242.10 256.40h7.6M242.10 259.60h7.6" stroke="#2c2c2c" stroke-width="1.05" fill="none"/>
<path d="M258.20 255.49L260.20 253.59V261.50" fill="none" stroke="#2c2c2c" stroke-width="1.0"/>
<text x="263.05" y="261.50" font-size="11.5" >0</text>
<text x="271.51" y="255.70" font-size="8.0" >−</text>
<text x="277.52" y="255.70" font-size="8.0" >4</text>
<text x="289.74" y="261.50" font-size="11.5" >Z</text>
<circle cx="301.00" cy="262.30" r="2.6" fill="none" stroke="#2c2c2c" stroke-width="0.9"/><circle cx="301.00" cy="262.30" r="0.7" fill="#2c2c2c"/>
<text x="452.64" y="261.50" font-size="11.5" >Z</text>
<path d="M467.20 256.40h7.6M467.20 259.60h7.6" stroke="#2c2c2c" stroke-width="1.05" fill="none"/>
<path d="M483.30 255.49L485.30 253.59V261.50" fill="none" stroke="#2c2c2c" stroke-width="1.0"/>
<text x="488.15" y="261.50" font-size="11.5" >0</text>
<text x="496.61" y="255.70" font-size="8.0" >−</text>
<text x="502.48" y="255.70" font-size="8.0" >5</text>
<text x="514.84" y="261.50" font-size="11.5" >Z</text>
<circle cx="526.10" cy="262.30" r="2.6" fill="none" stroke="#2c2c2c" stroke-width="0.9"/><circle cx="526.10" cy="262.30" r="0.7" fill="#2c2c2c"/>
<text transform="translate(207.00,500.40) scale(1.1,1)" x="-0.76" y="0" font-size="11.5" >n</text>
<text x="219.04" y="501.60" font-size="13.5" >[</text>
<text x="224.51" y="500.20" font-size="11.5" >c</text>
<g transform="translate(231.50,500.2) scale(1.25,1)"><text x="-0.76" y="0.00" font-size="11.5" >m</text></g>
<text x="243.63" y="494.60" font-size="7.5" >−</text>
<text x="249.01" y="494.60" font-size="7.5" >3</text>
<text x="255.89" y="501.60" font-size="13.5" >]</text>
<text transform="translate(432.10,500.40) scale(1.1,1)" x="-0.76" y="0" font-size="11.5" >n</text>
<text x="444.14" y="501.60" font-size="13.5" >[</text>
<text x="449.61" y="500.20" font-size="11.5" >c</text>
<g transform="translate(456.60,500.2) scale(1.25,1)"><text x="-0.76" y="0.00" font-size="11.5" >m</text></g>
<text x="468.73" y="494.60" font-size="7.5" >−</text>
<text x="474.11" y="494.60" font-size="7.5" >3</text>
<text x="480.99" y="501.60" font-size="13.5" >]</text>
<g transform="translate(57.2,313.6) rotate(-90)"><text x="-0.58" y="0.00" font-size="11.5" letter-spacing="1.249" >Cooling/heating rate (erg s</text><text x="168.91" y="-5.20" font-size="8" letter-spacing="0.664" >−1</text><text x="181.72" y="0.00" font-size="11.5" >g</text><text x="190.81" y="-5.20" font-size="8" letter-spacing="-0.136" >−1</text><text x="200.53" y="0.00" font-size="11.5" >)</text></g>
<g transform="translate(77.70,261.70) rotate(-90)"><text x="-0.26" y="0.00" font-size="11.5" letter-spacing="1.151" >Temperature (K)</text></g>
<rect x="1" y="316.5" width="88.4" height="150.9" fill="#fff" stroke="#c8c8c8" stroke-width="1"/>
<text x="6.24" y="326.30" font-size="11.4" >T</text>
<text x="11.92" y="329.60" font-size="7.6" letter-spacing="0" >Gas</text>
<text x="5.06" y="349.00" font-size="11.4" letter-spacing="0.469" >PdV</text>
<text x="33.56" y="349.00" font-size="11.4" >H</text>
<text x="5.06" y="371.30" font-size="11.4" >H</text><text x="13.54" y="375.50" font-size="9.2" >2</text><text x="25.06" y="371.30" font-size="11.4" letter-spacing="1.128" >Form.</text><text x="66.06" y="371.30" font-size="11.4" >H</text>
<text x="5.06" y="393.80" font-size="11.4" >H</text><text x="13.54" y="398.00" font-size="9.2" >2</text><text x="25.06" y="393.80" font-size="11.4" letter-spacing="0.786" >Diss.</text><text x="59.42" y="393.80" font-size="11.4" >C</text>
<text x="5.06" y="416.50" font-size="11.4" >H</text><text x="13.54" y="420.70" font-size="9.2" >2</text><text x="24.42" y="416.50" font-size="11.4" >C</text><text x="33.25" y="416.50" font-size="11.4" >I</text><text x="36.36" y="416.50" font-size="11.4" >E</text><text x="48.92" y="416.50" font-size="11.4" >C</text>
<text x="5.06" y="439.00" font-size="11.4" >H</text><text x="13.54" y="443.20" font-size="9.2" >2</text><text x="24.56" y="439.00" font-size="11.4" letter-spacing="0.963" >Line</text><text x="54.12" y="439.00" font-size="11.4" >C</text>
<text x="5.06" y="461.20" font-size="11.4" letter-spacing="1.026" >Dust</text>
<text x="37.62" y="461.20" font-size="11.4" >C</text>
<line x1="6" y1="331" x2="75" y2="331" stroke="#086c0c" stroke-width="2.2"/><line x1="6" y1="353.2" x2="75" y2="353.2" stroke="#b8341a" stroke-width="2.2"/><line x1="6" y1="375.6" x2="75" y2="375.6" stroke="#b8341a" stroke-width="2.2" stroke-dasharray="4 4"/><line x1="6" y1="398.3" x2="75" y2="398.3" stroke="#12319c" stroke-width="2.2" stroke-dasharray="4.5 2.7 1 2.8"/><line x1="6" y1="420.6" x2="75" y2="420.6" stroke="#12319c" stroke-width="2.2" stroke-dasharray="3.8 4.5"/><line x1="6" y1="443.1" x2="75" y2="443.1" stroke="#12319c" stroke-width="2.2"/><line x1="6" y1="465.6" x2="75" y2="465.6" stroke="#000" stroke-width="2.2"/>
</svg>
</body></html>
